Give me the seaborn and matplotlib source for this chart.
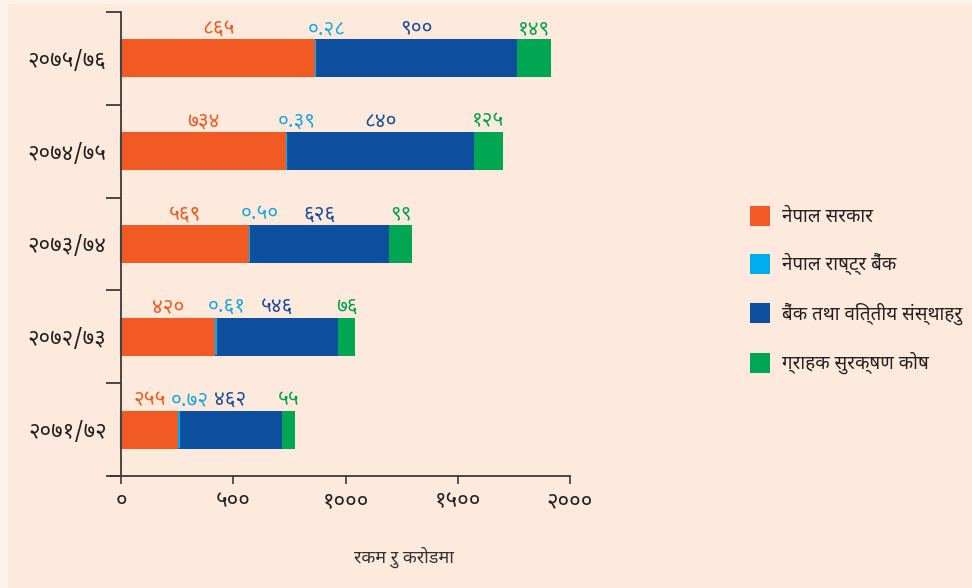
import matplotlib
matplotlib.use("Agg")
import matplotlib.pyplot as plt
from matplotlib.patches import Patch, Rectangle
from matplotlib.ticker import FixedLocator
import numpy as np
import pandas as pd
import seaborn as sns

# Data (रकम रु करोडमा)
years = ["२०७५/७६", "२०७४/७५", "२०७३/७४", "२०७२/७३", "२०७१/७२"]
govt = [865, 734, 569, 420, 255]
nrb = [0.28, 0.39, 0.50, 0.61, 0.72]
bfi = [900, 840, 626, 546, 462]
dpf = [149, 125, 99, 76, 55]
series_names = ["नेपाल सरकार", "नेपाल राष्ट्र बैंक",
                "बैंक तथा वित्तीय संस्थाहरु", "ग्राहक सुरक्षण कोष"]
xticks = [0, 500, 1000, 1500, 2000]
x_label = "रकम रु करोडमा"

colors = ["#F15A22", "#00AEEF", "#0D4E9F", "#00A651"]
text_colors = ["#F15A22", "#1AA9E3", "#1B4F9C", "#00A651"]

font_list = ["Noto Sans Devanagari", "Annapurna SIL", "Mukta", "Hind", "DejaVu Sans"]
plt.rcParams["font.family"] = font_list

DIGITS = str.maketrans("0123456789", "०१२३४५६७८९")


def nep(v, fmt="{:g}"):
    return fmt.format(v).translate(DIGITS)


df = pd.DataFrame({"year": years, "govt": govt, "nrb": nrb, "bfi": bfi, "dpf": dpf})
df["c1"] = df["govt"]
df["c2"] = df["c1"] + df["nrb"]
df["c3"] = df["c2"] + df["bfi"]
df["c4"] = df["c3"] + df["dpf"]

fig = plt.figure(figsize=(9.72, 5.88), dpi=100, facecolor="#FEF3EC")
fig.add_artist(Rectangle((8 / 972, 0), 1, 584 / 588, transform=fig.transFigure,
                         facecolor="#FEEADC", edgecolor="none", zorder=-10))
ax = fig.add_axes([110 / 972, 112 / 588, 460 / 972, 464 / 588])
ax.set_facecolor("none")

bar_w = 0.41
# stacked bars: draw cumulative totals from the largest down
sns.barplot(data=df, x="c4", y="year", order=years, color=colors[3], saturation=1,
            width=bar_w, errorbar=None, linewidth=0, ax=ax)
sns.barplot(data=df, x="c3", y="year", order=years, color=colors[2], saturation=1,
            width=bar_w, errorbar=None, linewidth=0, ax=ax)
# NRB share is tiny, so give it an outline to keep it visible (slightly thinner bar
# so the outline stays inside the stack)
sns.barplot(data=df, x="c2", y="year", order=years, color=colors[1], saturation=1,
            width=bar_w - 0.035, errorbar=None, linewidth=1.6, edgecolor=colors[1], ax=ax)
sns.barplot(data=df, x="c1", y="year", order=years, color=colors[0], saturation=1,
            width=bar_w, errorbar=None, linewidth=0, ax=ax)

# value labels above the bars
for i, r in df.iterrows():
    y_top = i - bar_w / 2
    spots = [
        (r["govt"] / 2, nep(r["govt"]), 0, text_colors[0]),
        (r["c2"], nep(r["nrb"], "{:.2f}"), 8, text_colors[1]),
        (r["c2"] + r["bfi"] / 2, nep(r["bfi"]), 0, text_colors[2]),
        (r["c4"] - r["dpf"] / 2, nep(r["dpf"]), 0, text_colors[3]),
    ]
    for x, txt, dx, c in spots:
        ax.annotate(txt, (x, y_top), xytext=(dx, 8), textcoords="offset points",
                    ha="center", va="center", fontsize=15, color=c)

ax.set_xlim(-50, 2000)
ax.set_ylim(len(years) - 0.5, -0.5)
ax.spines["left"].set_position(("data", 0))
for s in ["top", "right"]:
    ax.spines[s].set_visible(False)
for s in ["left", "bottom"]:
    ax.spines[s].set_color("#3a3a3a")
    ax.spines[s].set_linewidth(1.3)

ax.set_xticks(xticks)
ax.set_xticklabels([nep(v) for v in xticks], fontsize=16, color="#222222")
ax.tick_params(axis="x", length=6, width=1.2, color="#3a3a3a", pad=5)

ax.set_yticks(range(len(years)))
ax.set_yticklabels(years, fontsize=16, color="#222222")
ax.tick_params(axis="y", which="major", length=0, pad=10.5)
ax.yaxis.set_minor_locator(FixedLocator(np.arange(-0.5, len(years), 1)))
ax.tick_params(axis="y", which="minor", length=11, width=1.3, color="#3a3a3a")

ax.set_ylabel("")
ax.set_xlabel(x_label, fontsize=13, color="#333333")
ax.xaxis.set_label_coords(0.639, -0.153)

handles = [Patch(facecolor=c, edgecolor="none") for c in colors]
ax.legend(handles, series_names, loc="center left", bbox_to_anchor=(733 / 972, 298 / 588),
          bbox_transform=fig.transFigure, frameon=False, fontsize=13.5,
          handlelength=1.05, handleheight=1.25, labelspacing=1.45, handletextpad=0.65,
          labelcolor="#222222")

fig.savefig("out.png", dpi=100, facecolor=fig.get_facecolor())
